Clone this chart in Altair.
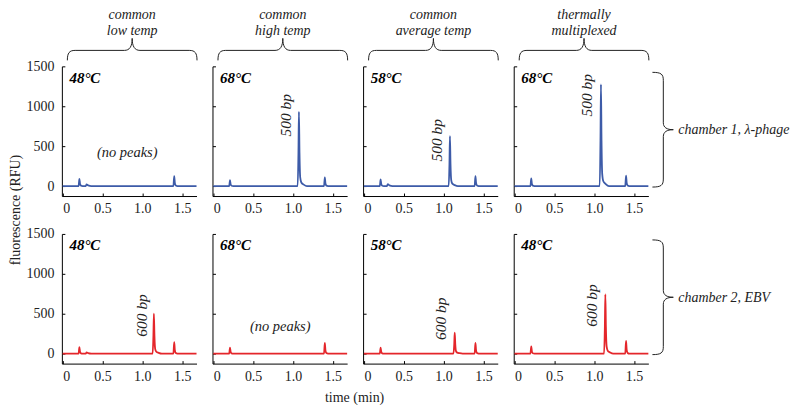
import altair as alt
import pandas as pd

FONT = "Liberation Serif"
HEADERS = [["common", "low temp"], ["common", "high temp"],
           ["common", "average temp"], ["thermally", "multiplexed"]]
TEMPS = [["48°C", "68°C", "58°C", "68°C"],
         ["48°C", "68°C", "58°C", "48°C"]]
ROW_LABELS = ["chamber 1, λ-phage", "chamber 2, EBV"]
COLORS = ["#3d5ba8", "#e4262b"]
X_TICKS = [0, 0.5, 1.0, 1.5]
Y_TICKS = [0, 500, 1000, 1500]
X_DOMAIN = [-0.01, 1.68]
Y_DOMAIN = [-125, 1500]

# traces, row 1 (blue, chamber 1)
A_t = [0, 0.2, 0.21, 0.218, 0.23, 0.25, 0.29, 0.3, 0.32, 0.36, 1.39, 1.4, 1.408, 1.42, 1.44, 1.68]
A_v = [0, 0, 90, 27, 5, 0, 0, 20, 8, 0, 0, 125, 38, 6, 0, 0]
B_t = [0, 0.2, 0.21, 0.218, 0.23, 0.25, 1.059, 1.069, 1.075, 1.082, 1.091, 1.105, 1.135, 1.175, 1.39, 1.4, 1.408, 1.42, 1.44, 1.68]
B_v = [0, 0, 75, 22, 4, 0, 0, 420, 930, 420, 110, 45, 18, 0, 0, 108, 32, 5, 0, 0]
C_t = [0, 0.2, 0.21, 0.218, 0.23, 0.25, 0.29, 0.3, 0.32, 0.36, 1.064, 1.074, 1.08, 1.087, 1.096, 1.11, 1.14, 1.18, 1.39, 1.4, 1.408, 1.42, 1.44, 1.68]
C_v = [0, 0, 83, 25, 4, 0, 0, 25, 8, 0, 0, 280, 625, 280, 75, 30, 12, 0, 0, 125, 38, 6, 0, 0]
D_t = [0, 0.2, 0.21, 0.218, 0.23, 0.25, 1.069, 1.079, 1.085, 1.092, 1.101, 1.115, 1.145, 1.185, 1.39, 1.4, 1.408, 1.42, 1.44, 1.68]
D_v = [0, 0, 96, 29, 5, 0, 0, 575, 1275, 575, 150, 60, 25, 0, 0, 130, 39, 7, 0, 0]
# traces, row 2 (red, chamber 2)
E_t = [0, 0.2, 0.21, 0.218, 0.23, 0.25, 0.29, 0.3, 0.32, 0.36, 1.129, 1.139, 1.145, 1.152, 1.161, 1.175, 1.205, 1.245, 1.39, 1.4, 1.408, 1.42, 1.44, 1.68]
E_v = [0, 0, 80, 24, 4, 0, 0, 15, 6, 0, 0, 225, 500, 225, 60, 25, 10, 0, 0, 145, 44, 7, 0, 0]
F_t = [0, 0.2, 0.21, 0.218, 0.23, 0.25, 1.39, 1.4, 1.408, 1.42, 1.44, 1.68]
F_v = [0, 0, 75, 22, 4, 0, 0, 133, 40, 7, 0, 0]
G_t = [0, 0.2, 0.21, 0.218, 0.23, 0.25, 1.124, 1.134, 1.14, 1.147, 1.156, 1.17, 1.2, 1.24, 1.39, 1.4, 1.408, 1.42, 1.44, 1.68]
G_v = [0, 0, 75, 22, 4, 0, 0, 118, 262, 118, 31, 13, 5, 0, 0, 133, 40, 7, 0, 0]
H_t = [0, 0.2, 0.21, 0.218, 0.23, 0.25, 1.124, 1.134, 1.14, 1.147, 1.156, 1.17, 1.2, 1.24, 1.39, 1.4, 1.408, 1.42, 1.44, 1.68]
H_v = [0, 0, 92, 28, 5, 0, 0, 335, 742, 335, 90, 37, 15, 0, 0, 158, 47, 8, 0, 0]

TRACES = [[(A_t, A_v), (B_t, B_v), (C_t, C_v), (D_t, D_v)],
          [(E_t, E_v), (F_t, F_v), (G_t, G_v), (H_t, H_v)]]

# peak labels: row, col, text, x, y
PEAK_ROW = [0, 0, 0, 1, 1, 1]
PEAK_COL = [1, 2, 3, 0, 2, 3]
PEAK_TEXT = ["500 bp", "500 bp", "500 bp", "600 bp", "600 bp", "600 bp"]
PEAK_X = [0.915, 0.92, 0.912, 0.995, 0.97, 0.975]
PEAK_Y = [887, 575, 1137, 479, 437, 604]
# "(no peaks)" notes
NOPEAK_ROW = [0, 1]
NOPEAK_COL = [0, 1]
NOPEAK_X = [0.81, 0.84]
NOPEAK_Y = [408, 333]

W, H = 135, 130
BRACE_H = ("M -1 0.154 C -1 0.04 -0.97 0 -0.88 0 L -0.12 0 C -0.04 0 0 -0.06 0 -0.185 "
           "C 0 -0.06 0.04 0 0.12 0 L 0.88 0 C 0.97 0 1 0.04 1 0.154")
BRACE_V = ("M -0.19 -1 C -0.04 -1 0 -0.97 0 -0.86 L 0 -0.12 C 0 -0.04 0.06 0 0.174 0 "
           "C 0.06 0 0 0.04 0 0.12 L 0 0.86 C 0 0.97 -0.04 1 -0.19 1")

one = pd.DataFrame({"d": [0]})
TXT = dict(font=FONT, fontSize=14, color="#222")


def panel(r, c):
    t, v = TRACES[r][c]
    df = pd.DataFrame({"t": t, "v": v})
    xenc = alt.X("t:Q", scale=alt.Scale(domain=X_DOMAIN, nice=False, zero=False),
                 axis=alt.Axis(values=X_TICKS, title=None, tickSize={"expr": "-3"},
                               labelPadding=9, labelFont=FONT, labelFontSize=14,
                               labelExpr="datum.value == 0 ? '0' : format(datum.value, '.1f')"))
    yenc = alt.Y("v:Q", scale=alt.Scale(domain=Y_DOMAIN, nice=False, zero=False),
                 axis=alt.Axis(values=Y_TICKS, title=None, labels=(c == 0), format="d",
                               labelFont=FONT, labelFontSize=14,
                               tickSize={"expr": "-3"}, labelPadding=11))
    layers = [alt.Chart(df).mark_line(color=COLORS[r], strokeWidth=1.8,
                                      interpolate="monotone").encode(x=xenc, y=yenc)]
    # temperature label
    tdf = pd.DataFrame({"t": [0.085], "v": [1360], "s": [TEMPS[r][c]]})
    layers.append(alt.Chart(tdf).mark_text(font=FONT, fontSize=15, fontWeight="bold",
                                           fontStyle="italic", align="left",
                                           baseline="middle", color="black")
                  .encode(x="t:Q", y="v:Q", text="s:N"))
    for i in range(len(PEAK_ROW)):
        if PEAK_ROW[i] == r and PEAK_COL[i] == c:
            pdf = pd.DataFrame({"t": [PEAK_X[i]], "v": [PEAK_Y[i]], "s": [PEAK_TEXT[i]]})
            layers.append(alt.Chart(pdf).mark_text(font=FONT, fontSize=15.5, color="#222",
                                                   fontStyle="italic", angle=270,
                                                   align="center", baseline="middle")
                          .encode(x="t:Q", y="v:Q", text="s:N"))
    for i in range(len(NOPEAK_ROW)):
        if NOPEAK_ROW[i] == r and NOPEAK_COL[i] == c:
            ndf = pd.DataFrame({"t": [NOPEAK_X[i]], "v": [NOPEAK_Y[i]], "s": ["(no peaks)"]})
            layers.append(alt.Chart(ndf).mark_text(font=FONT, fontSize=14.5, color="#222",
                                                   fontStyle="italic", align="center",
                                                   baseline="middle")
                          .encode(x="t:Q", y="v:Q", text="s:N"))
    if r == 0:
        layers.append(alt.Chart(one).mark_text(fontStyle="italic", align="center",
                                               baseline="middle", text=HEADERS[c][0], **TXT)
                      .encode(x=alt.value(70.5), y=alt.value(-51)))
        layers.append(alt.Chart(one).mark_text(fontStyle="italic", align="center",
                                               baseline="middle", text=HEADERS[c][1], **TXT)
                      .encode(x=alt.value(70.5), y=alt.value(-35)))
        layers.append(alt.Chart(one).mark_point(shape=BRACE_H, size=16900, filled=False,
                                                stroke="#222", strokeWidth=1, opacity=1)
                      .encode(x=alt.value(70.5), y=alt.value(-16)))
    if c == 3:
        layers.append(alt.Chart(one).mark_point(shape=BRACE_V, size=13225, filled=False,
                                                stroke="#222", strokeWidth=1, opacity=1)
                      .encode(x=alt.value(150), y=alt.value(63.5)))
        layers.append(alt.Chart(one).mark_text(fontStyle="italic", align="left",
                                               baseline="middle", text=ROW_LABELS[r], **TXT)
                      .encode(x=alt.value(165), y=alt.value(64)))
    if r == 1 and c == 0:
        layers.append(alt.Chart(one).mark_text(angle=270, align="center", baseline="middle",
                                               text="fluorescence (RFU)", **TXT)
                      .encode(x=alt.value(-46), y=alt.value(-24)))
    if r == 1 and c == 1:
        layers.append(alt.Chart(one).mark_text(align="center", baseline="middle",
                                               text="time (min)", **TXT)
                      .encode(x=alt.value(142.5), y=alt.value(164)))
    return alt.layer(*layers).properties(width=W, height=H)


panels = [panel(r, c) for r in range(2) for c in range(4)]
chart = alt.concat(*panels, columns=4, spacing={"row": 38, "column": 16},
                   bounds="flush").properties(padding=0).configure(font=FONT).configure_view(
    stroke=None).configure_axis(
    grid=False, domainColor="black", tickColor="black", domainWidth=1, tickWidth=1,
    labelFont=FONT, labelFontSize=14, labelColor="#222")

chart.save("out.html", embed_options={"renderer": "svg", "actions": False})
